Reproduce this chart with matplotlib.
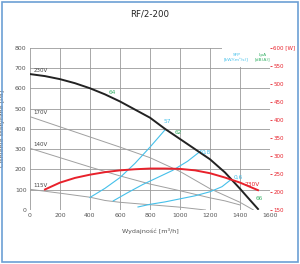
import matplotlib
matplotlib.use("Agg")
import matplotlib.pyplot as plt
from matplotlib.patches import Rectangle

# ---- data ----
x_230 = [0, 100, 200, 300, 400, 500, 600, 700, 800, 900, 1000, 1100, 1200, 1300, 1400, 1450, 1520]
y_230 = [670, 660, 645, 625, 600, 570, 535, 495, 455, 400, 350, 300, 250, 185, 105, 63, 5]

x_170 = [0, 200, 400, 600, 800, 1000, 1200, 1400, 1490]
y_170 = [460, 410, 360, 310, 258, 190, 105, 38, 0]

x_140 = [0, 200, 400, 600, 800, 1000, 1200, 1300, 1400]
y_140 = [304, 258, 212, 168, 128, 95, 60, 45, 25]

x_115 = [0, 200, 400, 500, 600, 800, 1000, 1170]
y_115 = [102, 83, 63, 47, 38, 26, 14, 0]

x_sfp_a = [400, 500, 600, 700, 800, 900]
y_sfp_a = [62, 107, 160, 230, 310, 395]
x_sfp_b = [555, 650, 750, 850, 950, 1050, 1140]
y_sfp_b = [45, 85, 125, 160, 195, 240, 292]
x_sfp_c = [720, 800, 900, 1000, 1100, 1200, 1280, 1340]
y_sfp_c = [15, 28, 40, 55, 70, 90, 115, 150]

x_pow = [100, 200, 300, 400, 500, 600, 700, 800, 900, 1000, 1100, 1200, 1300, 1400, 1520]
w_pow = [207, 226, 239, 248, 255, 260, 263, 265, 265, 264, 260, 252, 240, 226, 205]

x_ticks = [0, 200, 400, 600, 800, 1000, 1200, 1400, 1600]
y_ticks = [0, 100, 200, 300, 400, 500, 600, 700, 800]
w_ticks = [150, 200, 250, 300, 350, 400, 450, 500, 550, 600]

volt_labels = ["230V", "170V", "140V", "115V"]
sfp_labels = ["57", "0,8", "0,6"]
lpa_labels = ["64", "62", "66"]

title = "RF/2-200"

# ---- style ----
FONT = ["Liberation Sans Narrow", "DejaVu Sans"]
plt.rcParams['font.family'] = FONT
GRID = "#9a9a9a"
TXT = "#555555"
CYAN = "#45c0ea"
RED = "#e8212b"
GREEN = "#3bb36a"

fig = plt.figure(figsize=(3.0, 2.64), dpi=100)
fig.patches.append(Rectangle((0.006, 0.006), 0.988, 0.986, transform=fig.transFigure,
                             fill=False, edgecolor="#6c9fd4", linewidth=1.2))

ax = fig.add_axes([0.1, 0.2045, 0.8, 0.6148])
ax.set_xlim(0, 1600)
ax.set_ylim(0, 800)
ax.set_xticks(x_ticks)
ax.set_yticks(y_ticks)
ax.grid(True, color=GRID, linewidth=0.6)
ax.set_axisbelow(True)
for s in ax.spines.values():
    s.set_visible(False)
ax.tick_params(axis='both', length=0, labelsize=4.4, labelcolor=TXT, pad=2.5)

# legend box (white) covering grid
ax.add_patch(Rectangle((1280, 705), 318, 93, facecolor="white", edgecolor="none", zorder=1.5))
ax.text(1375, 752, "SFP\n[kW/(m³/s)]", color=CYAN, fontsize=3.2, ha='center', va='center',
        linespacing=1.2, zorder=3)
ax.text(1548, 752, "LpA\n[dB(A)]", color=GREEN, fontsize=3.2, ha='center', va='center',
        linespacing=1.2, zorder=3)

# gray voltage curves
for xs, ys in [(x_170, y_170), (x_140, y_140), (x_115, y_115)]:
    ax.plot(xs, ys, color="#a0a0a0", linewidth=0.7, zorder=2)
# SFP lines
for xs, ys in [(x_sfp_a, y_sfp_a), (x_sfp_b, y_sfp_b), (x_sfp_c, y_sfp_c)]:
    ax.plot(xs, ys, color=CYAN, linewidth=0.8, zorder=3)
# 230V main curve
ax.plot(x_230, y_230, color="#222222", linewidth=1.4, zorder=5)

# voltage labels
for lab, ys in zip(volt_labels, [y_230, y_170, y_140, y_115]):
    ax.text(25, ys[0] + 6, lab, color="#444444", fontsize=4, ha='left', va='bottom', zorder=6)

ax.text(913, 434, sfp_labels[0], color=CYAN, fontsize=4.2, ha='center', va='center', zorder=6)
ax.text(1173, 286, sfp_labels[1], color=CYAN, fontsize=4.2, ha='center', va='center', zorder=6)
ax.text(1385, 163, sfp_labels[2], color=CYAN, fontsize=4.2, ha='center', va='center', zorder=6)
ax.text(547, 577, lpa_labels[0], color=GREEN, fontsize=4.2, ha='center', va='center', zorder=6)
ax.text(990, 384, lpa_labels[1], color=GREEN, fontsize=4.2, ha='center', va='center', zorder=6)
ax.text(1525, 59, lpa_labels[2], color=GREEN, fontsize=4.2, ha='center', va='center', zorder=6)

ax.set_xlabel("Wydajność [m³/h]", fontsize=4.6, color=TXT, labelpad=7)
ax.set_ylabel("Ciśnienie statyczne [Pa]", fontsize=4.6, color=TXT, labelpad=7)

# right axis (power)
ax2 = ax.twinx()
ax2.set_ylim(150, 600)
ax2.set_yticks(w_ticks)
ax2.set_yticklabels([str(w) if w != 600 else "600 [W]" for w in w_ticks])
for s in ax2.spines.values():
    s.set_visible(False)
ax2.tick_params(axis='y', colors=RED, labelcolor=RED, length=1.5, width=0.6,
                labelsize=4.0, pad=1.0, direction='out')
ax2.plot(x_pow, w_pow, color=RED, linewidth=1.4, zorder=4)
ax2.text(1480, 222, "230V", color=RED, fontsize=4.2, ha='center', va='center')

fig.text(0.5, 0.947, title, fontsize=6.2, color="#222222", ha='center', va='center',
         fontweight='normal')

fig.savefig("out.png", dpi=100)
